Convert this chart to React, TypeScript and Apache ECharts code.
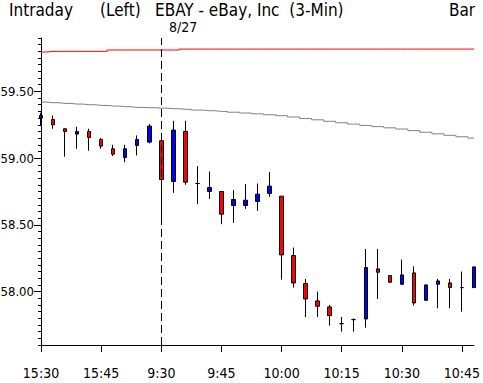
import React, { useEffect, useRef } from 'react';
import * as echarts from 'echarts';

const categories = [
  '15:30', '15:33', '15:36', '15:39', '15:42', '15:45', '15:48', '15:51', '15:54', '15:57',
  '9:30', '9:33', '9:36', '9:39', '9:42', '9:45', '9:48', '9:51', '9:54', '9:57',
  '10:00', '10:03', '10:06', '10:09', '10:12', '10:15', '10:18', '10:21', '10:24', '10:27',
  '10:30', '10:33', '10:36', '10:39', '10:42', '10:45', '10:48',
];

const opens = [
  59.30, 59.29, 59.22, 59.18, 59.20, 59.14, 59.07, 59.005, 59.095, 59.12,
  59.13, 58.825, 59.20, 58.81, 58.75, 58.75, 58.645, 58.645, 58.675, 58.735,
  58.715, 58.27, 58.06, 57.93, 57.885, 57.76, 57.79, 57.795, 58.17, 58.12,
  58.055, 58.14, 57.935, 58.055, 58.065, 58.03, 58.03,
];
const closes = [
  59.32, 59.25, 59.20, 59.20, 59.155, 59.09, 59.03, 59.07, 59.14, 59.24,
  58.84, 59.21, 58.82, 58.81, 58.78, 58.58, 58.69, 58.685, 58.73, 58.79,
  58.275, 58.065, 57.945, 57.89, 57.82, 57.76, 57.79, 58.18, 58.145, 58.07,
  58.125, 57.915, 58.05, 58.08, 58.03, 58.03, 58.185,
];
const lows = [
  59.24, 59.22, 59.01, 59.07, 59.055, 59.07, 59.015, 58.97, 59.02, 59.11,
  58.56, 58.74, 58.80, 58.655, 58.695, 58.505, 58.515, 58.62, 58.605, 58.71,
  58.09, 58.03, 57.81, 57.81, 57.745, 57.70, 57.70, 57.73, 57.945, 58.07,
  58.05, 57.895, 57.935, 57.875, 57.875, 57.85, 58.03,
];
const highs = [
  59.34, 59.32, 59.22, 59.235, 59.22, 59.15, 59.10, 59.10, 59.17, 59.255,
  59.185, 59.28, 59.28, 58.94, 58.90, 58.75, 58.76, 58.805, 58.81, 58.895,
  58.715, 58.33, 58.095, 58.00, 57.90, 57.81, 57.80, 58.32, 58.32, 58.12,
  58.24, 58.19, 58.05, 58.095, 58.095, 58.15, 58.185,
];

const upperLine = [
  59.795, 59.80, 59.80, 59.80, 59.80, 59.80, 59.81, 59.81, 59.81, 59.81,
  59.81, 59.81, 59.817, 59.817, 59.817, 59.817, 59.817, 59.817, 59.817, 59.817,
  59.817, 59.817, 59.817, 59.817, 59.817, 59.817, 59.817, 59.817, 59.817, 59.817,
  59.817, 59.817, 59.817, 59.817, 59.817, 59.817, 59.817,
];
const avgLine = [
  59.42, 59.415, 59.41, 59.405, 59.40, 59.395, 59.39, 59.385, 59.38, 59.378,
  59.374, 59.37, 59.366, 59.36, 59.355, 59.35, 59.344, 59.338, 59.332, 59.325,
  59.318, 59.308, 59.297, 59.287, 59.276, 59.265, 59.255, 59.245, 59.236, 59.227,
  59.218, 59.206, 59.194, 59.182, 59.171, 59.16, 59.15,
];

const yTickLabels = [58.0, 58.5, 59.0, 59.5];
const yMinorTicks = [
  57.6, 57.65, 57.7, 57.75, 57.8, 57.85, 57.9, 57.95, 58.0, 58.05, 58.1, 58.15,
  58.2, 58.25, 58.3, 58.35, 58.4, 58.45, 58.5, 58.55, 58.6, 58.65, 58.7, 58.75,
  58.8, 58.85, 58.9, 58.95, 59.0, 59.05, 59.1, 59.15, 59.2, 59.25, 59.3, 59.35,
  59.4, 59.45, 59.5, 59.55, 59.6, 59.65, 59.7, 59.75, 59.8, 59.85, 59.9,
];
const sessionStart = '9:30';

const FONT = "'DejaVu Sans Condensed', 'DejaVu Sans', sans-serif";

export default function App() {
  const ref = useRef<HTMLDivElement>(null);
  useEffect(() => {
    const chart = echarts.init(ref.current!, null, { renderer: 'svg' });
    const candles = opens.map((o, i) => [o, closes[i], lows[i], highs[i]]);
    const txt = (text: string, x: number, y: number, size: number) => ({
      type: 'text',
      x,
      y,
      style: { text, fill: '#000', font: `${size}px ${FONT}`, verticalAlign: 'middle', align: 'left' },
    });
    chart.setOption({
      animation: false,
      backgroundColor: '#fff',
      grid: { left: 41, right: 9, top: 38, bottom: 38, containLabel: false, outerBoundsMode: 'none' },
      xAxis: {
        type: 'category',
        data: categories,
        boundaryGap: false,
        axisLine: { lineStyle: { color: '#000', width: 1 } },
        axisTick: { interval: 4, length: 7, lineStyle: { color: '#000' } },
        axisLabel: { interval: 4, color: '#000', fontSize: 14, fontFamily: FONT, margin: 21 },
        splitLine: { show: false },
      },
      yAxis: [
        {
          type: 'value',
          min: 57.6,
          max: 59.9,
          axisLine: { show: true, lineStyle: { color: '#000', width: 1 } },
          axisTick: { show: true, length: 7, customValues: yTickLabels, lineStyle: { color: '#000' } },
          axisLabel: {
            color: '#000',
            fontSize: 13,
            fontFamily: FONT,
            margin: 7,
            customValues: yTickLabels,
            formatter: (v: number) => v.toFixed(2),
          },
          splitLine: { show: false },
        },
        {
          type: 'value',
          min: 57.6,
          max: 59.9,
          position: 'left',
          axisLine: { show: false },
          axisTick: { show: true, length: 3, customValues: yMinorTicks, lineStyle: { color: '#000' } },
          axisLabel: { show: false },
          splitLine: { show: false },
        },
      ],
      series: [
        {
          type: 'line',
          data: avgLine,
          step: 'middle',
          symbol: 'none',
          lineStyle: { color: '#808080', width: 1 },
          z: 1,
        },
        {
          type: 'line',
          data: upperLine,
          step: 'middle',
          symbol: 'none',
          lineStyle: { color: '#FF0000', width: 1 },
          z: 1,
        },
        {
          type: 'candlestick',
          data: candles,
          barWidth: 4,
          clip: true,
          z: 3,
          itemStyle: {
            color: '#0000FF',
            color0: '#FF0000',
            borderColor: '#000',
            borderColor0: '#000',
            borderColorDoji: '#000',
            borderWidth: 1,
          },
          markLine: {
            silent: true,
            symbol: ['none', 'none'],
            label: { show: false },
            lineStyle: { color: '#000', width: 1, type: [8, 4] },
            data: [{ xAxis: sessionStart }],
          },
        },
      ],
      graphic: [
        txt('Intraday', 9, 9.5, 17),
        txt('(Left)', 100, 9.5, 17),
        txt('EBAY - eBay, Inc  (3-Min)', 155, 9.5, 17),
        txt('Bar', 449, 9.5, 17),
        txt('8/27', 169, 26.5, 14),
      ],
    });
    return () => chart.dispose();
  }, []);
  return <div ref={ref} style={{ position: 'fixed', left: 0, top: 0, width: 483, height: 383 }} />;
}
